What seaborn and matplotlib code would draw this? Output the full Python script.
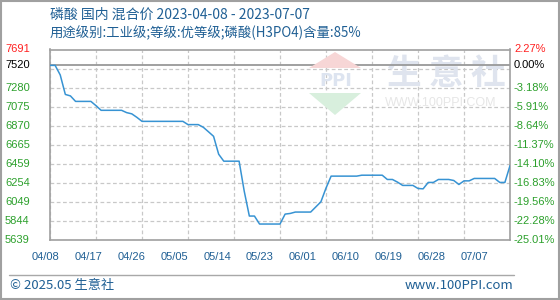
import numpy as np
import pandas as pd
import matplotlib
matplotlib.use("Agg")
import matplotlib.pyplot as plt
import seaborn as sns
from matplotlib.patches import Polygon, Rectangle
from matplotlib.lines import Line2D

sns.set_theme(style="white")
plt.rcParams['font.family'] = ['Noto Sans CJK SC', 'DejaVu Sans']

# ---------------- data ----------------
start_date = "2023-04-08"
end_date = "2023-07-07"
prices = [7520, 7520, 7417, 7207, 7191, 7132, 7132, 7132, 7132, 7086,
          7036, 7036, 7036, 7036, 7036, 7011, 6998, 6960, 6917, 6917,
          6917, 6917, 6917, 6917, 6917, 6917, 6917, 6882, 6882, 6882,
          6853, 6805, 6756, 6563, 6488, 6488, 6488, 6488, 6165, 5897,
          5897, 5811, 5811, 5811, 5811, 5811, 5918, 5925, 5940, 5940,
          5940, 5940, 5995, 6050, 6198, 6327, 6327, 6327, 6327, 6327,
          6327, 6337, 6337, 6337, 6337, 6337, 6291, 6291, 6262, 6227,
          6227, 6227, 6194, 6190, 6259, 6259, 6291, 6291, 6291, 6280,
          6237, 6276, 6276, 6302, 6302, 6302, 6302, 6302, 6259, 6259,
          6440]
x_labels = ["04/08", "04/17", "04/26", "05/05", "05/14", "05/23",
            "06/01", "06/10", "06/19", "06/28", "07/07"]
y_ticks = [5639, 5844, 6049, 6254, 6459, 6665, 6870, 7075, 7280]
y_grid_extra = [7485]
y_top = 7691
base_price = 7520
pct_labels = ["-25.01%", "-22.28%", "-19.56%", "-16.83%", "-14.10%",
              "-11.37%", "-8.64%", "-5.91%", "-3.18%"]
top_pct = "2.27%"
base_pct = "0.00%"
title1 = "磷酸 国内 混合价 2023-04-08 - 2023-07-07"
title2 = "用途级别:工业级;等级:优等级;磷酸(H3PO4)含量:85%"
footer_left = "© 2025.05 生意社"
footer_right = "www.100PPI.com"

dates = pd.date_range(start_date, end_date, freq="D")
df = pd.DataFrame({"date": dates, "price": prices})

# ---------------- figure ----------------
W, H = 560, 300
fig = plt.figure(figsize=(W / 100, H / 100), dpi=100)
fig.patch.set_facecolor("white")

L, R, T, B = 50, 510, 49.5, 240
ax = fig.add_axes([L / W, 1 - B / H, (R - L) / W, (B - T) / H])
ax.set_facecolor("white")

def fx(x): return x / W
def fy(y): return 1 - y / H

# watermark logo
fig.patches.append(Polygon([(fx(335), fy(52)), (fx(309), fy(68)), (fx(361), fy(68))],
                           closed=True, transform=fig.transFigure,
                           facecolor="#f7d6d6", edgecolor="none", zorder=0.5))
fig.patches.append(Polygon([(fx(309), fy(93)), (fx(361), fy(93)), (fx(335), fy(115))],
                           closed=True, transform=fig.transFigure,
                           facecolor="#d8efdd", edgecolor="none", zorder=0.5))

grid_color = "#c8c8c8"
frame_color = "#a0a0a0"
blue = "#1f5f94"
green = "#2ca02c"
red = "#ff2020"

sns.lineplot(data=df, x="date", y="price", ax=ax, color="#3793d3",
             linewidth=1.1, zorder=5)

ax.set_xlim(dates[0], dates[-1])
ax.set_ylim(y_ticks[0], y_top)

tick_dates = dates[::9]
ax.set_xticks(tick_dates)
ax.set_yticks(y_ticks + y_grid_extra + [y_top])
ax.grid(True, which="major", color=grid_color, linestyle=(0, (3, 2)), linewidth=0.9)
ax.tick_params(axis="both", length=0, labelbottom=False, labelleft=False)
ax.set_xlabel("")
ax.set_ylabel("")
for s in ax.spines.values():
    s.set_color(frame_color)
    s.set_linewidth(1.2)
ax.axhline(base_price, color="#999999", linewidth=1.3, zorder=3)

# watermark texts
ax.text(fx(336), fy(81), "PPI", transform=fig.transFigure, ha="center", va="center",
        fontsize=13, fontweight="bold", color="#dde4f0", zorder=0.6,
        family=["DejaVu Sans"])
for i, ch in enumerate("生意社"):
    ax.text(fx(404 + 42 * i), fy(73), ch, transform=fig.transFigure, ha="center",
            va="center", fontsize=25, fontweight="bold", color="#dfe4ee", zorder=0.6)
ax.text(fx(385), fy(103), "WWW.100PPI.COM", transform=fig.transFigure, ha="left",
        va="center", fontsize=9, color="#e6e6e6", zorder=0.6,
        family=["Liberation Sans"])

# y labels
tick_font = ["Liberation Sans"]
def yp(v):
    return B - (v - y_ticks[0]) / (y_top - y_ticks[0]) * (B - T)

for v, p in zip(y_ticks, pct_labels):
    fig.text(fx(5), fy(yp(v)), str(v), ha="left", va="center", fontsize=8,
             color=green, family=tick_font)
    fig.text(fx(514), fy(yp(v)), p, ha="left", va="center", fontsize=8,
             color=green, family=tick_font)
fig.text(fx(5), fy(yp(y_top) - 1), str(y_top), ha="left", va="center", fontsize=8,
         color=red, family=tick_font)
fig.text(fx(514), fy(yp(y_top) - 1), top_pct, ha="left", va="center", fontsize=8,
         color=red, family=tick_font)
fig.text(fx(5), fy(yp(base_price)), str(base_price), ha="left", va="center",
         fontsize=8, color="black", family=tick_font)
fig.text(fx(514), fy(yp(base_price)), base_pct, ha="left", va="center",
         fontsize=8, color="black", family=tick_font)

# x labels (reference places them with a slightly narrower spacing)
for i, lab in enumerate(x_labels):
    fig.text(fx(46 + 42.8 * i), fy(257), lab, ha="center", va="center", fontsize=8,
             color=blue, family=tick_font)

# titles
fig.text(fx(50), fy(15), title1, ha="left", va="center", fontsize=10, color=blue)
fig.text(fx(50), fy(33), title2, ha="left", va="center", fontsize=9.6, color=blue)

# footer
fig.lines.append(Line2D([fx(9), fx(514)], [fy(275), fy(275)], transform=fig.transFigure,
                        color="#a8a8a8", linewidth=1))
fig.text(fx(10), fy(285.5), footer_left, ha="left", va="center", fontsize=9.5, color=blue)
fig.text(fx(513), fy(285.5), footer_right, ha="right", va="center", fontsize=9.5,
         color=blue)

# outer border
fig.patches.append(Rectangle((0.001, 0.002), 0.997, 0.995, transform=fig.transFigure,
                             fill=False, edgecolor="#a0a0a0", linewidth=1.5))

fig.savefig("out.png", dpi=100, facecolor="white")
